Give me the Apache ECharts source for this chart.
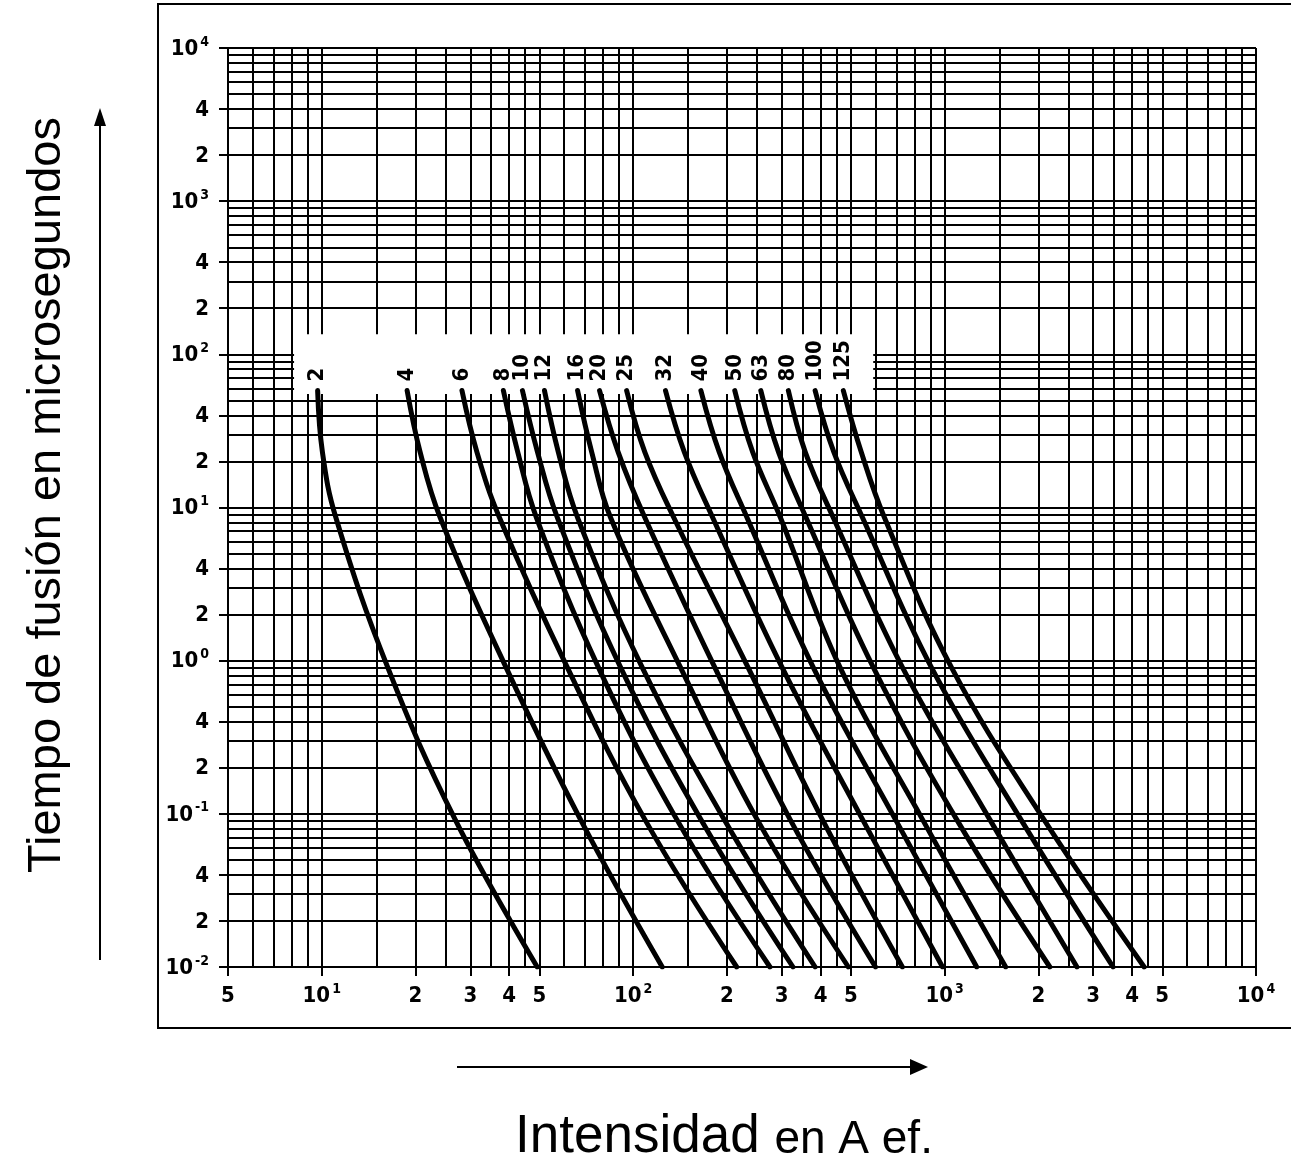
<!DOCTYPE html>
<html><head><meta charset="utf-8">
<script src="https://cdn.jsdelivr.net/npm/echarts@6/dist/echarts.min.js"></script>
<style>html,body{margin:0;padding:0;background:#fff}#c{width:1291px;height:1162px}</style>
</head><body><div id="c"></div>
<script>
// melting time levels (µs) at which each curve was read
const timeLevels = [58, 23, 8.6, 0.9, 0.092, 0.01];
// fuse ratings (curve labels)
const ratings = ['2','4','6','8','10','12','16','20','25','32','40','50','63','80','100','125'];
// current (A ef.) of each curve at the time levels above
const I_2   = [9.7, 10.05, 11.1, 16.3, 26.8, 49.2];
const I_4   = [18.8, 20.7, 24.0, 39.1, 67.7, 124];
const I_6   = [28.2, 31.5, 37.2, 61.5, 109, 215];
const I_8   = [38.3, 42.6, 48.9, 77.4, 138, 275];
const I_10  = [44.1, 49.3, 57.1, 91.2, 165, 326];
const I_12  = [51.9, 57.5, 66.3, 107, 196, 384];
const I_16  = [66.3, 73.6, 84.6, 142, 250, 491];
const I_20  = [78.0, 89.5, 109, 183, 319, 600];
const I_25  = [95.3, 109, 135, 234, 405, 732];
const I_32  = [127, 146, 180, 301, 545, 985];
const I_40  = [165, 189, 232, 379, 695, 1268];
const I_50  = [212, 242, 297, 462, 849, 1571];
const I_63  = [257, 293, 359, 591, 1093, 2178];
const I_80  = [315, 357, 439, 733, 1396, 2661];
const I_100 = [384, 441, 545, 908, 1757, 3476];
const I_125 = [473, 540, 641, 1053, 2083, 4375];
const curves = [I_2, I_4, I_6, I_8, I_10, I_12, I_16, I_20, I_25, I_32, I_40, I_50, I_63, I_80, I_100, I_125];

// log-paper ruling
const xGridMult = [1, 1.5, 2, 2.5, 3, 3.5, 4, 4.5, 5, 6, 7, 8, 9];
const xDecades = [1, 10, 100, 1000, 10000];
const yGridMult = [1, 2, 3, 4, 5, 6, 7, 8, 9];
const yDecades = [0.01, 0.1, 1, 10, 100, 1000, 10000];
// tick labels
const xTickValues = [5, 10, 20, 30, 40, 50, 100, 200, 300, 400, 500, 1000, 2000, 3000, 4000, 5000, 10000];
const xTickLabels = ['5','10^1','2','3','4','5','10^2','2','3','4','5','10^3','2','3','4','5','10^4'];
const yTickValues = [0.01, 0.02, 0.04, 0.1, 0.2, 0.4, 1, 2, 4, 10, 20, 40, 100, 200, 400, 1000, 2000, 4000, 10000];
const yTickLabels = ['10^-2','2','4','10^-1','2','4','10^0','2','4','10^1','2','4','10^2','2','4','10^3','2','4','10^4'];
// blank area behind the curve labels
const labelBox = [[8.15, 135], [590, 55]];

const X_MIN = 5, X_MAX = 10000, Y_MIN = 0.01, Y_MAX = 10000;
const FONT = 'DejaVu Sans Condensed';

function norm(v) { return Number(v.toPrecision(6)); }
function fmt(s) {
  const p = s.split('^');
  return p.length === 2 ? '{n|' + p[0] + '}{s|' + p[1] + '}' : '{n|' + s + '}';
}
const rich = {
  n: { fontFamily: FONT, fontWeight: 'bold', fontSize: 22, color: '#000', verticalAlign: 'bottom', lineHeight: 24 },
  s: { fontFamily: FONT, fontWeight: 'bold', fontSize: 14, color: '#000', verticalAlign: 'bottom', lineHeight: 24, padding: [0, 0, 11, 2] }
};

const gridLines = [];
xDecades.forEach(d => xGridMult.forEach(m => {
  const v = norm(m * d);
  if (v < X_MIN || v > X_MAX) return;
  const k = xTickValues.findIndex(t => norm(t) === v);
  gridLines.push({
    xAxis: v,
    label: k >= 0 ? { show: true, position: 'start', distance: 16, formatter: fmt(xTickLabels[k]), rich } : { show: false }
  });
}));
yDecades.forEach(d => yGridMult.forEach(m => {
  const v = norm(m * d);
  if (v < Y_MIN || v > Y_MAX) return;
  const k = yTickValues.findIndex(t => norm(t) === v);
  gridLines.push({
    yAxis: v,
    label: k >= 0 ? { show: true, position: 'start', distance: 19, formatter: fmt(yTickLabels[k]), rich } : { show: false }
  });
}));

const series = [{
  type: 'line', data: [], z: 1,
  markLine: {
    silent: true, animation: false, symbol: 'none', z: 5,
    lineStyle: { color: '#000', width: 2, type: 'solid' },
    emphasis: { disabled: true },
    data: gridLines
  },
  markArea: {
    silent: true, z: 6,
    itemStyle: { color: '#fff', opacity: 1 },
    data: [[{ coord: labelBox[0] }, { coord: labelBox[1] }]]
  }
}];

curves.forEach((arr, i) => {
  series.push({
    type: 'line', name: ratings[i], z: 10, smooth: 0.4,
    showSymbol: true, symbol: 'circle', symbolSize: 2,
    itemStyle: { color: '#000' },
    lineStyle: { color: '#000', width: 5, cap: 'round', join: 'round' },
    emphasis: { disabled: true },
    label: { show: false },
    data: arr.map((x, j) => j === 0 ? {
      value: [x, timeLevels[j]],
      label: {
        show: true, position: 'top', distance: 8, rotate: 90,
        align: 'left', verticalAlign: 'middle',
        formatter: ratings[i], fontFamily: FONT, fontWeight: 'bold', fontSize: 22, color: '#000'
      }
    } : [x, timeLevels[j]])
  });
});

const hidden = { axisLine: { show: false }, axisLabel: { show: false }, splitLine: { show: false } };
const tickStyle = { color: '#000', width: 2 };

const chart = echarts.init(document.getElementById('c'), null, { renderer: 'canvas' });
chart.setOption({
  backgroundColor: '#fff',
  animation: false,
  grid: { left: 228, right: 35, top: 48, bottom: 195 },
  xAxis: [
    Object.assign({ type: 'log', logBase: 10, min: X_MIN, max: X_MAX, position: 'top', axisTick: { show: false } }, hidden),
    Object.assign({ type: 'value', min: Math.log10(X_MIN), max: Math.log10(X_MAX), position: 'bottom',
      axisTick: { show: true, length: 9, lineStyle: tickStyle, customValues: xTickValues.map(v => Math.log10(v)) } }, hidden)
  ],
  yAxis: [
    Object.assign({ type: 'log', logBase: 10, min: Y_MIN, max: Y_MAX, position: 'right', axisTick: { show: false } }, hidden),
    Object.assign({ type: 'value', min: Math.log10(Y_MIN), max: Math.log10(Y_MAX), position: 'left',
      axisTick: { show: true, length: 9, lineStyle: tickStyle, customValues: yTickValues.map(v => Math.log10(v)) } }, hidden)
  ],
  tooltip: { show: false },
  series,
  graphic: [
    { type: 'rect', silent: true, shape: { x: 158, y: 4, width: 1160, height: 1024 }, style: { fill: 'none', stroke: '#000', lineWidth: 2 } },
    { type: 'line', silent: true, shape: { x1: 100, y1: 960, x2: 100, y2: 124 }, style: { stroke: '#000', lineWidth: 2 } },
    { type: 'polygon', silent: true, shape: { points: [[100, 108], [94, 126], [106, 126]] }, style: { fill: '#000' } },
    { type: 'line', silent: true, shape: { x1: 457, y1: 1067, x2: 912, y2: 1067 }, style: { stroke: '#000', lineWidth: 2 } },
    { type: 'polygon', silent: true, shape: { points: [[928, 1067], [910, 1059], [910, 1075]] }, style: { fill: '#000' } },
    { type: 'text', silent: true, x: 47, y: 495, rotation: Math.PI / 2,
      style: { text: 'Tiempo de fusión en microsegundos', font: '47px "Liberation Sans"', fill: '#000', align: 'center', verticalAlign: 'middle' } },
    { type: 'text', silent: true, x: 724, y: 1137,
      style: { text: '{a|Intensidad}{a| }{b|en A ef.}', align: 'center', verticalAlign: 'middle',
        rich: { a: { font: '53px "Liberation Sans"', fill: '#000', verticalAlign: 'bottom' }, b: { font: '46px "Liberation Sans"', fill: '#000', verticalAlign: 'bottom' } } } }
  ]
});
</script></body></html>
